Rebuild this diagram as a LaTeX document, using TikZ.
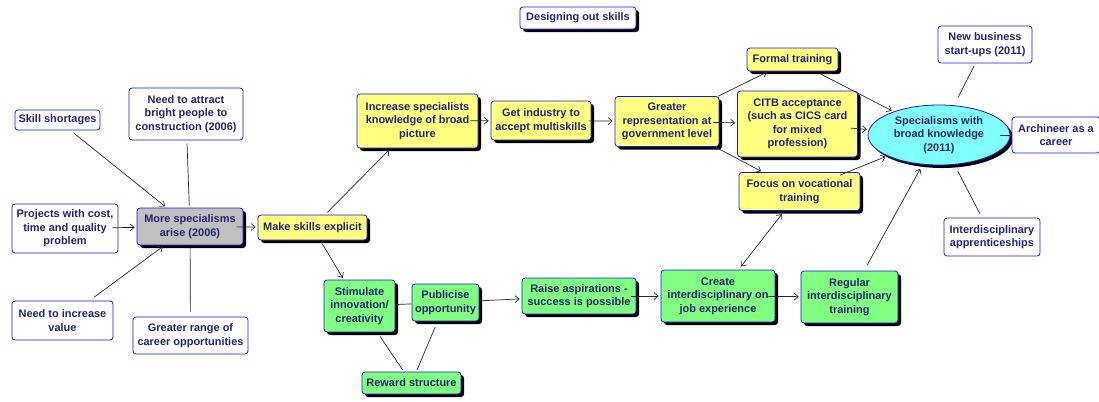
\documentclass[tikz,border=0pt]{standalone}
\usepackage{fontspec}
\setmainfont{Liberation Sans}
\usetikzlibrary{arrows.meta,shadows,shapes.geometric}
\definecolor{boxblue}{RGB}{20,20,235}
\definecolor{txt}{RGB}{35,35,115}
\definecolor{yel}{RGB}{255,255,128}
\definecolor{grn}{RGB}{128,255,128}
\definecolor{gry}{RGB}{192,192,192}
\definecolor{cyn}{RGB}{128,255,255}
\tikzset{
  base/.style={draw=boxblue, line width=0.8bp, rounded corners=3bp, text=txt,
    font=\fontsize{11}{13.5}\selectfont\bfseries, align=center, inner sep=1bp},
  shd/.style={drop shadow={shadow xshift=3bp, shadow yshift=-3bp, opacity=1, fill=black}},
  wbox/.style={base, fill=white},
  ybox/.style={base, fill=yel, shd},
  gbox/.style={base, fill=grn, shd},
  sz/.style 2 args={minimum width=#1bp, minimum height=#2bp},
  conn/.style={draw=black!85, line width=0.7bp, shorten <=3bp, shorten >=2bp},
  arr/.style={conn, -{Straight Barb[length=4bp,width=7bp]}},
  darr/.style={conn, {Straight Barb[length=4bp,width=7bp]}-{Straight Barb[length=4bp,width=7bp]}},
}
\begin{document}
\begin{tikzpicture}[x=1bp, y=-1bp]
\useasboundingbox (0,0) rectangle (1099,401);
% nodes
\node[wbox, shd, sz={116}{22}] (title) at (578,18) {Designing out skills};
\node[wbox, sz={85}{20}] (skill) at (57.5,120) {Skill shortages};
\node[wbox, sz={114}{52}] (attract) at (186,114) {Need to attract\\bright people to\\construction (2006)};
\node[wbox, sz={106}{49}] (proj) at (65,228.5) {Projects with cost,\\time and quality\\problem};
\node[base, fill=gry, shd, sz={106}{37}] (more) at (190,226.5) {More specialisms\\arise (2006)};
\node[wbox, sz={101}{39}] (value) at (62.5,320.5) {Need to increase\\value};
\node[wbox, sz={115}{37}] (range) at (190.5,335.5) {Greater range of\\career opportunities};
\node[ybox, sz={109}{25}] (make) at (312.5,227.5) {Make skills explicit};
\node[ybox, sz={121}{54}] (inc) at (417.5,121) {Increase specialists\\knowledge of broad\\picture};
\node[ybox, sz={100}{39}] (get) at (541,120.5) {Get industry to\\accept multiskills};
\node[ybox, sz={104}{50}] (rep) at (667,121.5) {Greater\\representation at\\government level};
\node[ybox, sz={91}{23}] (formal) at (792.5,59.5) {Formal training};
\node[ybox, sz={120}{66}] (citb) at (797.5,124) {CITB acceptance\\(such as CICS card\\for mixed\\profession)};
\node[ybox, sz={121}{38}] (focus) at (799.5,191.5) {Focus on vocational\\training};
\node[base, ellipse, fill=cyn, shd, inner sep=0pt, sz={142}{60}] (spec) at (939,135) {Specialisms with\\broad knowledge\\(2011)};
\node[wbox, sz={94}{37}] (new) at (985,44.5) {New business\\start-ups (2011)};
\node[wbox, sz={88}{36}] (arch) at (1056,135) {Archineer as a\\career};
\node[wbox, sz={96}{38}] (appr) at (992,237) {Interdisciplinary\\apprenticeships};
\node[gbox, sz={71}{52}] (stim) at (359.5,306) {Stimulate\\innovation/\\creativity};
\node[gbox, sz={67}{37}] (pub) at (445.5,302.5) {Publicise\\opportunity};
\node[gbox, sz={99}{22}] (reward) at (411.5,383) {Reward structure};
\node[gbox, sz={114}{36}] (raise) at (579,296) {Raise aspirations -\\success is possible};
\node[gbox, sz={114}{52}] (create) at (718,296) {Create\\interdisciplinary on\\job experience};
\node[gbox, sz={97}{52}] (regular) at (849.5,297) {Regular\\interdisciplinary\\training};
% connectors
\draw[arr, shorten <=5bp] (skill) -- (more);
\draw[conn] (attract) -- (more);
\draw[arr, shorten <=-6bp] (proj) -- (more);
\draw[arr, shorten <=6bp] (value) -- (more);
\draw[conn, shorten <=5bp] (range) -- (more);
\draw[arr, shorten <=-7bp] (more) -- (make);
\draw[arr] (make) -- (inc);
\draw[arr] (make) -- (stim);
\draw[arr, shorten <=-8bp] (inc) -- (get);
\draw[arr, shorten <=-3bp] (get) -- (rep);
\draw[arr, shorten <=0bp] (rep) -- (formal);
\draw[arr, shorten <=-6bp] (rep) -- (citb);
\draw[arr, shorten <=1bp] (rep) -- (focus);
\draw[arr, shorten <=6bp] (formal) -- (spec);
\draw[arr, shorten <=-7bp] (citb) -- (spec);
\draw[arr, shorten <=-8bp] (focus) -- (spec);
\draw[conn, shorten >=9bp] (new) -- (spec);
\draw[conn, shorten <=0bp, shorten >=-10bp] (arch) -- (spec);
\draw[conn, shorten >=7bp, shorten <=4bp] (appr) -- (spec);
\draw[conn, shorten <=0bp, shorten >=0bp] (stim) -- (pub);
\draw[conn, shorten <=5bp] (stim) -- (reward);
\draw[conn, shorten <=6bp] (pub) -- (reward);
\draw[arr, shorten <=0bp] (pub) -- (raise);
\draw[arr, shorten <=-5bp] (raise) -- (create);
\draw[arr, shorten <=-8bp] (create) -- (regular);
\draw[darr, shorten <=4bp, shorten >=4bp] (create) -- (focus);
\draw[arr, shorten <=6bp, shorten >=5bp] (regular) -- (spec);
\end{tikzpicture}
\end{document}
